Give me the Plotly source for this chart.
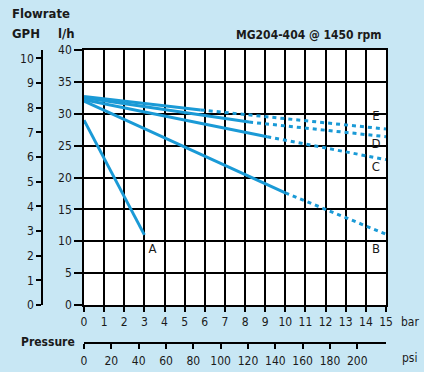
import plotly.graph_objects as go

# curvas del grafico (bar, l/h)
curva_a_x = [0, 3]
curva_a_y = [29, 11]

curva_b_x = [0, 10]
curva_b_y = [32, 17.6]
curva_b_dash_x = [10, 15]
curva_b_dash_y = [17.6, 11.1]

curva_c_x = [0, 9.1]
curva_c_y = [32.2, 26.4]
curva_c_dash_x = [9.1, 15]
curva_c_dash_y = [26.4, 22.8]

curva_d_x = [0, 8.2]
curva_d_y = [32.5, 28.7]
curva_d_dash_x = [8.2, 15]
curva_d_dash_y = [28.7, 26.4]

curva_e_x = [0, 5.8]
curva_e_y = [32.7, 30.6]
curva_e_dash_x = [5.8, 15]
curva_e_dash_y = [30.6, 27.6]

etiquetas = ["A", "B", "C", "D", "E"]
etiqueta_x = [3.4, 14.5, 14.5, 14.5, 14.5]
etiqueta_y = [8.6, 8.6, 21.6, 25.1, 29.5]

bar_ticks = list(range(0, 16))
lh_ticks = list(range(0, 41, 5))
gph_ticks = list(range(0, 11))
psi_ticks = list(range(0, 201, 20))

AZUL = "#1a9ad6"
FONDO = "#c8e7f4"
TXT = "#1a1a1a"
FUENTE = "DejaVu Sans Condensed, Liberation Sans Narrow, sans-serif"

W, H = 424, 372
ML, MR, MT, MB = 40, 38, 50, 29
PW = W - ML - MR
PH = H - MT - MB


def px_x(px):
    return (px - ML) / PW


def px_y(py):
    return (H - MB - py) / PH


fig = go.Figure()

solidas = [(curva_a_x, curva_a_y), (curva_b_x, curva_b_y), (curva_c_x, curva_c_y),
           (curva_d_x, curva_d_y), (curva_e_x, curva_e_y)]
for xs, ys in solidas:
    fig.add_trace(go.Scatter(x=xs, y=ys, mode="lines", showlegend=False,
                             line=dict(color=AZUL, width=3)))

punteadas = [(curva_b_dash_x, curva_b_dash_y), (curva_c_dash_x, curva_c_dash_y),
             (curva_d_dash_x, curva_d_dash_y), (curva_e_dash_x, curva_e_dash_y)]
for xs, ys in punteadas:
    fig.add_trace(go.Scatter(x=xs, y=ys, mode="lines", showlegend=False,
                             line=dict(color=AZUL, width=3, dash="4px,4px")))

fig.add_trace(go.Scatter(x=etiqueta_x, y=etiqueta_y, text=etiquetas, mode="text",
                         showlegend=False, textfont=dict(family=FUENTE, size=13, color=TXT)))

# ejes secundarios GPH / psi
fig.add_trace(go.Scatter(x=[0], y=[0], xaxis="x2", yaxis="y2", mode="markers",
                         marker=dict(opacity=0), showlegend=False, hoverinfo="skip"))

eje = dict(showline=True, linecolor="black", linewidth=1.5, ticks="outside",
           tickcolor="black", tickwidth=1.5, tickfont=dict(family=FUENTE, size=12, color=TXT),
           zeroline=False, automargin=False)

fig.update_layout(
    width=W, height=H,
    margin=dict(l=ML, r=MR, t=MT, b=MB),
    paper_bgcolor=FONDO, plot_bgcolor="white",
    font=dict(family=FUENTE, color=TXT),
    xaxis=dict(eje, domain=[px_x(84), 1], range=[0, 15], tickvals=bar_ticks,
               showgrid=True, gridcolor="black", gridwidth=1.5, mirror=True, ticklen=5,
               anchor="y"),
    yaxis=dict(eje, domain=[px_y(305), 1], range=[0, 40], tickvals=lh_ticks,
               showgrid=True, gridcolor="black", gridwidth=1.5, mirror=True, ticklen=8,
               anchor="x"),
    yaxis2=dict(eje, overlaying="y", anchor="free", position=px_x(42), side="left",
                range=[0, 10.34], tickvals=gph_ticks, showgrid=False, ticklen=5),
    xaxis2=dict(eje, overlaying="x", anchor="free", position=0, side="bottom",
                range=[0, 221], tickvals=psi_ticks, showgrid=False, ticklen=5,
                ticklabelstandoff=2),
)

notas = [
    ("Flowrate", 10, 14, "left", 13, True),
    ("GPH", 10, 33, "left", 13, True),
    ("l/h", 56, 33, "left", 13, True),
    ("MG204-404 @ 1450 rpm", 384, 35, "right", 12, True),
    ("Pressure", 19, 342, "left", 12, True),
    ("bar", 421, 322, "right", 12, False),
    ("psi", 419, 358, "right", 12, False),
]
for texto, x, y, anc, tam, negrita in notas:
    fig.add_annotation(text=f"<b>{texto}</b>" if negrita else texto,
                       xref="paper", yref="paper", x=px_x(x), y=px_y(y),
                       xanchor=anc, yanchor="middle", showarrow=False,
                       font=dict(family=FUENTE, size=tam, color=TXT))

# quitar el margen por defecto del body
fig.write_html("out.html", config={"displayModeBar": False},
               post_script="document.body.style.margin='0';"
                           "document.body.style.background='" + FONDO + "';")
